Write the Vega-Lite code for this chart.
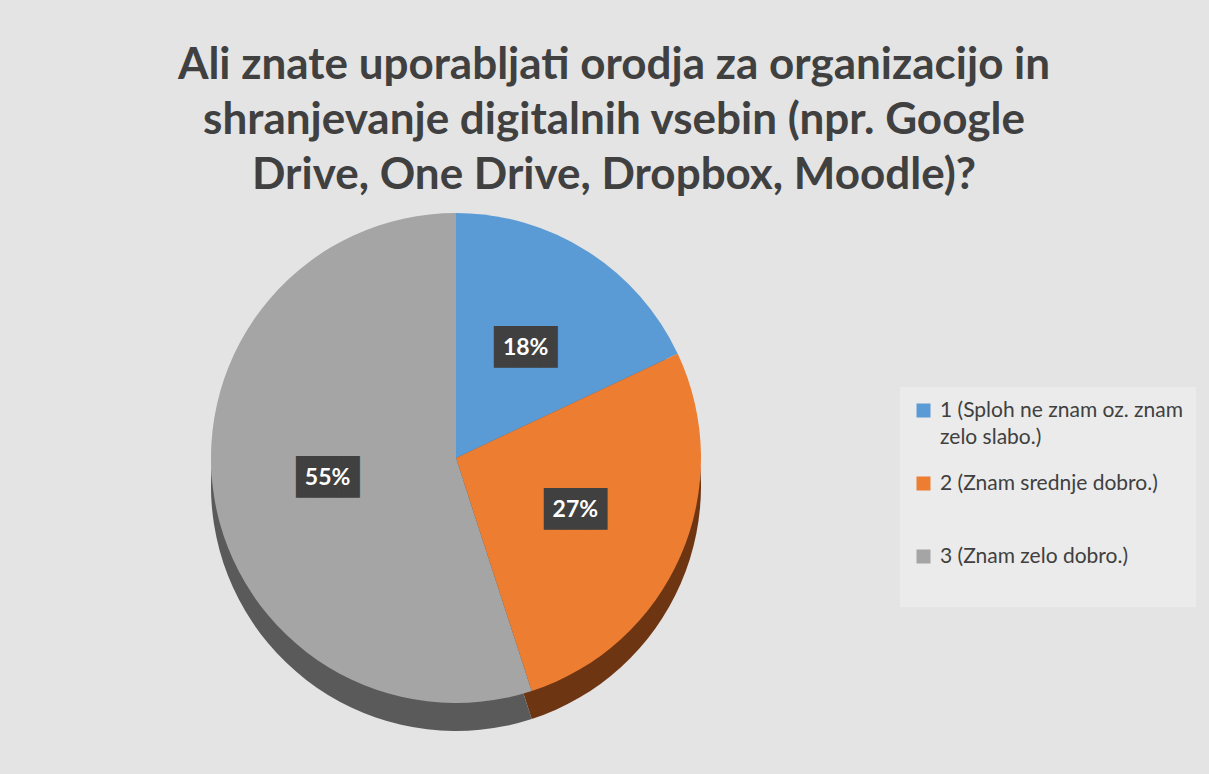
{
  "$schema": "https://vega.github.io/schema/vega-lite/v6.json",
  "width": 912,
  "height": 492,
  "autosize": {"type": "none"},
  "padding": {"top": 212, "left": 0, "right": 297, "bottom": 70},
  "background": "#e4e4e4",
  "title": {
    "text": ["Ali znate uporabljati orodja za organizacijo in", "shranjevanje digitalnih vsebin (npr. Google", "Drive, One Drive, Dropbox, Moodle)?"],
    "font": "Lato",
    "fontWeight": "bold",
    "fontSize": 44,
    "color": "#404040",
    "lineHeight": 55,
    "anchor": "middle",
    "frame": "group",
    "dx": 158,
    "offset": 14
  },
  "data": {
    "values": [
      {"odgovor": "1 (Sploh ne znam oz. znam zelo slabo.)", "delez": 0.18},
      {"odgovor": "2 (Znam srednje dobro.)", "delez": 0.27},
      {"odgovor": "3 (Znam zelo dobro.)", "delez": 0.55}
    ]
  },
  "config": {
    "view": {"stroke": null},
    "legend": {
      "orient": "none",
      "legendX": 900,
      "legendY": 175,
      "padding": 13,
      "fillColor": "#ebebeb",
      "symbolType": "square",
      "symbolSize": 196,
      "symbolStrokeWidth": 0,
      "labelFont": "Lato",
      "labelFontSize": 21,
      "labelColor": "#404040",
      "labelLimit": 320,
      "labelOffset": 6,
      "rowPadding": 24
    }
  },
  "resolve": {"scale": {"color": "independent"}},
  "layer": [
    {
      "mark": {"type": "arc", "radius": 245, "yOffset": 28},
      "encoding": {
        "theta": {"field": "delez", "type": "quantitative", "stack": true},
        "color": {"field": "odgovor", "type": "nominal", "legend": null, "scale": {"range": ["#335a80", "#6e3513", "#5a5a5a"]}}
      }
    },
    {
      "mark": {"type": "arc", "radius": 245},
      "encoding": {
        "theta": {"field": "delez", "type": "quantitative", "stack": true},
        "color": {
          "field": "odgovor",
          "type": "nominal",
          "scale": {"range": ["#5b9bd5", "#ed7d31", "#a5a5a5"]},
          "legend": {
            "title": null,
            "labelExpr": "datum.value == '1 (Sploh ne znam oz. znam zelo slabo.)' ? ['1 (Sploh ne znam oz. znam', 'zelo slabo.)'] : [datum.label, '']",
            "encode": {"labels": {"update": {"lineHeight": {"value": 27}}}}
          }
        }
      }
    },
    {
      "mark": {"type": "text", "radius": 130, "font": "DejaVu Sans Mono", "fontSize": 35, "color": "#404040", "baseline": "middle", "align": "center"},
      "encoding": {
        "theta": {"field": "delez", "type": "quantitative", "stack": true},
        "detail": {"field": "odgovor", "type": "nominal"},
        "text": {"value": "███"}
      }
    },
    {
      "mark": {"type": "text", "radius": 130, "font": "Lato", "fontWeight": "bold", "fontSize": 23, "color": "white", "baseline": "middle", "align": "center"},
      "encoding": {
        "theta": {"field": "delez", "type": "quantitative", "stack": true},
        "detail": {"field": "odgovor", "type": "nominal"},
        "text": {"field": "delez", "type": "quantitative", "format": ".0%"}
      }
    }
  ]
}
